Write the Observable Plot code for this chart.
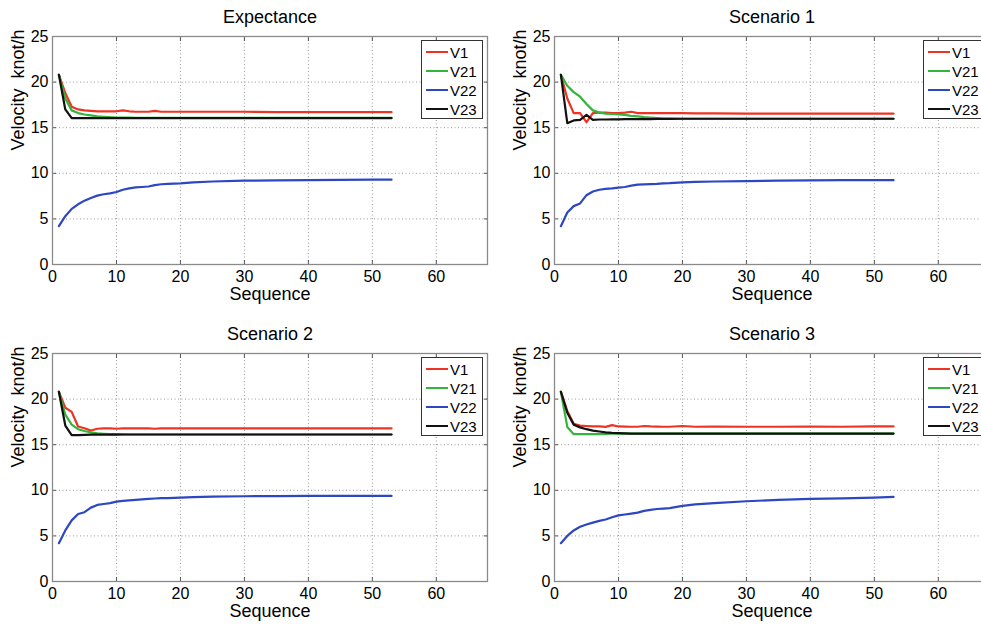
<!DOCTYPE html>
<html><head><meta charset="utf-8">
<script src="https://cdn.jsdelivr.net/npm/d3@7"></script>
<script src="https://cdn.jsdelivr.net/npm/@observablehq/plot@0.6"></script>
<style>
body{margin:0;background:#fff;overflow:hidden;}
#wrap{position:relative;width:981px;height:626px;overflow:hidden;background:#fff;font-family:"Liberation Sans",Arial,Helvetica,sans-serif;}
.panel{position:absolute;width:490px;height:310px;}
.panel svg{display:block;}
.legend{position:absolute;left:421px;top:40px;width:62px;height:79px;border:1.5px solid #333;background:#fff;box-sizing:border-box;}
.row{position:absolute;left:0;height:19px;width:100%;}
.row .sw{position:absolute;left:4px;top:8px;width:22px;height:2px;}
.row .lb{position:absolute;left:28px;top:0;line-height:19px;font-size:15px;color:#000;white-space:nowrap;}
</style>
</head><body>
<div id="wrap"></div>
<script>
const names = ["V1", "V21", "V22", "V23"];
const colors = ["#ee3322", "#33b43a", "#2d47c2", "#111111"];
const seq = [1,2,3,4,5,6,7,8,9,10,11,12,13,14,15,16,17,18,20,22,25,30,35,40,45,50,53];
const xTicks = [0,10,20,30,40,50,60];
const yTicks = [0,5,10,15,20,25];
const xGrid = [10,20,30,40,50,60];
const yGrid = [5,10,15,20];
const titles = ["Expectance", "Scenario 1", "Scenario 2", "Scenario 3"];
const xLabel = "Sequence";
const yLabel = "Velocity\u00a0 knot/h";

// Expectance
const expV1  = [20.8,18.8,17.3,17.0,16.9,16.85,16.8,16.8,16.8,16.8, 16.9,16.8,16.75,16.75,16.75,16.85,16.75,16.75, 16.75,16.75,16.75,16.75,16.7,16.7,16.7,16.7,16.7];
const expV21 = [20.8,18.2,16.9,16.6,16.45,16.35,16.25,16.2,16.15,16.12, 16.1,16.1,16.08,16.08,16.07,16.07,16.07,16.07, 16.07,16.07,16.07,16.07,16.07,16.07,16.07,16.07,16.07];
const expV22 = [4.2,5.3,6.1,6.6,7.0,7.3,7.55,7.7,7.8,7.95, 8.2,8.35,8.45,8.5,8.55,8.7,8.8,8.85, 8.9,9.0,9.1,9.2,9.22,9.25,9.28,9.3,9.3];
const expV23 = [20.8,17.0,16.05,16.05,16.05,16.05,16.05,16.05,16.05,16.05, 16.05,16.05,16.05,16.05,16.05,16.05,16.05,16.05, 16.05,16.05,16.05,16.05,16.05,16.05,16.05,16.05,16.05];

// Scenario 1
const s1V1  = [20.8,18.2,16.6,16.6,15.6,16.6,16.65,16.65,16.6,16.6, 16.65,16.75,16.6,16.6,16.6,16.6,16.6,16.6, 16.6,16.58,16.58,16.55,16.55,16.55,16.55,16.55,16.55];
const s1V21 = [20.8,19.6,18.9,18.4,17.6,16.9,16.65,16.55,16.5,16.45, 16.4,16.3,16.25,16.15,16.1,16.05,16.0,16.0, 15.98,15.98,15.98,15.98,15.98,15.98,15.98,15.98,15.98];
const s1V22 = [4.2,5.7,6.4,6.7,7.6,8.0,8.2,8.3,8.35,8.42, 8.5,8.65,8.75,8.78,8.82,8.85,8.9,8.92, 9.0,9.05,9.1,9.15,9.2,9.22,9.25,9.25,9.25];
const s1V23 = [20.8,15.5,15.8,15.85,16.4,15.85,15.9,15.9,15.92,15.92, 15.95,15.95,15.95,15.95,15.95,15.97,15.97,15.97, 15.98,15.98,15.98,15.98,15.98,15.98,15.98,15.98,15.98];

// Scenario 2
const s2V1  = [20.8,19.05,18.6,17.0,16.8,16.55,16.75,16.8,16.8,16.75, 16.8,16.8,16.8,16.8,16.8,16.75,16.8,16.8, 16.8,16.8,16.8,16.8,16.8,16.8,16.8,16.8,16.8];
const s2V21 = [20.8,18.3,17.2,16.7,16.5,16.35,16.25,16.2,16.15,16.15, 16.13,16.12,16.12,16.12,16.12,16.12,16.12,16.12, 16.12,16.12,16.12,16.12,16.12,16.12,16.12,16.12,16.12];
const s2V22 = [4.2,5.6,6.7,7.4,7.6,8.1,8.4,8.5,8.6,8.75, 8.85,8.9,8.95,9.0,9.05,9.1,9.15,9.15, 9.2,9.25,9.3,9.35,9.37,9.38,9.38,9.38,9.38];
const s2V23 = [20.8,17.1,16.05,16.05,16.08,16.1,16.1,16.1,16.1,16.1, 16.12,16.12,16.12,16.12,16.12,16.12,16.12,16.12, 16.12,16.12,16.12,16.12,16.12,16.12,16.12,16.12,16.12];

// Scenario 3
const s3V1  = [20.8,18.7,17.3,17.1,17.05,17.0,17.0,16.95,17.15,17.0, 16.98,16.97,16.97,17.05,17.0,16.98,16.97,16.97, 17.05,16.97,16.98,16.97,16.97,16.98,16.97,17.0,17.0];
const s3V21 = [20.8,16.95,16.15,16.15,16.15,16.15,16.17,16.18,16.2,16.2, 16.22,16.22,16.22,16.22,16.22,16.22,16.22,16.22, 16.22,16.22,16.22,16.22,16.22,16.22,16.22,16.22,16.22];
const s3V22 = [4.2,5.0,5.6,6.0,6.25,6.45,6.65,6.8,7.05,7.25, 7.35,7.45,7.55,7.75,7.85,7.95,8.0,8.05, 8.3,8.45,8.6,8.8,8.95,9.05,9.12,9.2,9.27];
const s3V23 = [20.8,18.5,17.2,16.9,16.7,16.55,16.45,16.35,16.3,16.27, 16.25,16.22,16.22,16.22,16.22,16.22,16.22,16.22, 16.22,16.22,16.22,16.22,16.22,16.22,16.22,16.22,16.22];

const panels = [
  {title: titles[0], series: [expV1, expV21, expV22, expV23], left: 0,   top: 0},
  {title: titles[1], series: [s1V1, s1V21, s1V22, s1V23],     left: 502, top: 0},
  {title: titles[2], series: [s2V1, s2V21, s2V22, s2V23],     left: 0,   top: 317},
  {title: titles[3], series: [s3V1, s3V21, s3V22, s3V23],     left: 502, top: 317}
];

const FONT = '"Liberation Sans", Arial, Helvetica, sans-serif';
const wrap = document.getElementById("wrap");

panels.forEach(p => {
  const data = [];
  names.forEach((n, i) => p.series[i].forEach((v, j) => data.push({x: seq[j], y: v, s: n})));
  const gridStyle = {stroke: "#9a9a9a", strokeOpacity: 1, strokeWidth: 1, strokeDasharray: "1,2.5"};
  const tickStyle = {tickSize: -4, fill: "none", label: null, stroke: "#555"};
  const svg = Plot.plot({
    width: 490, height: 310,
    marginLeft: 52, marginRight: 3, marginTop: 36, marginBottom: 46,
    style: {fontFamily: FONT, fontSize: "16px", color: "#000", background: "transparent", overflow: "visible"},
    x: {domain: [0, 68]},
    y: {domain: [0, 25]},
    color: {domain: names, range: colors},
    marks: [
      Plot.gridX(xGrid, gridStyle),
      Plot.gridY(yGrid, gridStyle),
      Plot.axisX(xTicks, {anchor: "bottom", ...tickStyle}),
      Plot.axisX(xTicks, {anchor: "top", ...tickStyle}),
      Plot.axisY(yTicks, {anchor: "left", ...tickStyle}),
      Plot.axisY(yTicks, {anchor: "right", ...tickStyle}),
      Plot.frame({stroke: "#8a8a8a", strokeWidth: 1.3}),
      Plot.axisX(xTicks, {anchor: "bottom", tickSize: 0, tickPadding: 6, fontSize: 16, label: null}),
      Plot.axisY(yTicks, {anchor: "left", tickSize: 0, tickPadding: 4, fontSize: 16, label: null}),
      Plot.line(data, {x: "x", y: "y", z: "s", stroke: "s", strokeWidth: 2.2, strokeLinejoin: "round"}),
      Plot.text([p.title], {text: d => d, frameAnchor: "top", dy: -19, fontSize: 18, lineAnchor: "middle"}),
      Plot.text([xLabel], {text: d => d, frameAnchor: "bottom", dy: 30, fontSize: 18, lineAnchor: "middle"}),
      Plot.text([yLabel], {text: d => d, frameAnchor: "left", dx: -34, rotate: -90, fontSize: 18, lineAnchor: "middle"})
    ]
  });
  const div = document.createElement("div");
  div.className = "panel";
  div.style.left = p.left + "px";
  div.style.top = p.top + "px";
  div.appendChild(svg);
  const leg = document.createElement("div");
  leg.className = "legend";
  names.forEach((n, i) => {
    const row = document.createElement("div");
    row.className = "row";
    row.style.top = (1.5 + i * 19) + "px";
    const sw = document.createElement("div");
    sw.className = "sw";
    sw.style.background = colors[i];
    const lb = document.createElement("div");
    lb.className = "lb";
    lb.textContent = n;
    row.appendChild(sw);
    row.appendChild(lb);
    leg.appendChild(row);
  });
  div.appendChild(leg);
  wrap.appendChild(div);
});
</script>
</body></html>
